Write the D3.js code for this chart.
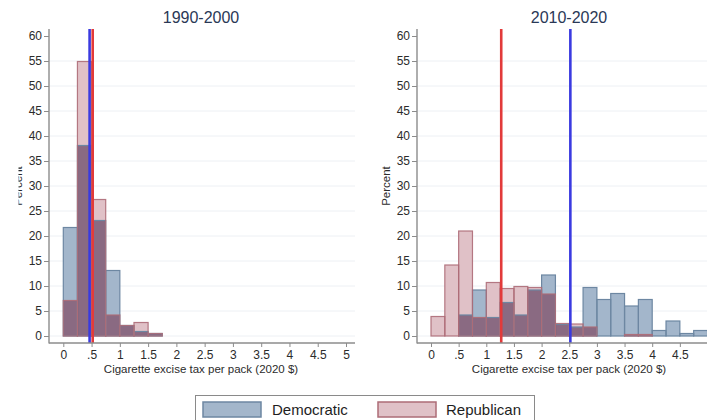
<!DOCTYPE html>
<html>
<head>
<meta charset="utf-8">
<script src="https://cdn.jsdelivr.net/npm/d3@7"></script>
<style>
  body { margin: 0; background: #fff; }
  svg { display: block; font-family: "Liberation Sans", Arial, sans-serif; }
</style>
</head>
<body>
<svg width="707" height="420"></svg>
<script>
// histogram bins (start of each 0.25 bin) and percent per party
const binWidth = 0.25;
const bins1990 = [0, 0.25, 0.5, 0.75, 1, 1.25, 1.5];
const dem1990 = [21.7, 38.1, 23.1, 13.1, 2.1, 0.9, 0.5];
const rep1990 = [7.1, 54.9, 27.3, 4.2, 2.1, 2.7, 0.5];

const bins2010 = [0, 0.25, 0.5, 0.75, 1, 1.25, 1.5, 1.75, 2, 2.25,
                  2.5, 2.75, 3, 3.25, 3.5, 3.75, 4, 4.25, 4.5, 4.75];
const dem2010 = [0, 0, 4.2, 9.2, 3.7, 6.7, 4.2, 9.2, 12.2, 2.3,
                 1.8, 9.7, 7.3, 8.5, 6.0, 7.3, 1.1, 3.0, 0.5, 1.1];
const rep2010 = [3.9, 14.2, 21.0, 3.7, 10.7, 9.5, 9.9, 9.7, 8.4, 2.5,
                 2.4, 1.8, 0, 0, 0.3, 0.3, 0, 0, 0, 0];

const titles = ["1990-2000", "2010-2020"];
const demMeans = [0.465, 2.52];
const repMeans = [0.52, 1.27];

const yTicks = [0, 5, 10, 15, 20, 25, 30, 35, 40, 45, 50, 55, 60];
const xTicks = [0, 0.5, 1, 1.5, 2, 2.5, 3, 3.5, 4, 4.5, 5];
const xTickLabels = ["0", ".5", "1", "1.5", "2", "2.5", "3", "3.5", "4", "4.5", "5"];
const legendLabels = ["Democratic", "Republican"];

const demFill = "#a3b6cb", demStroke = "#6d87a2";
const repFill = "#e0c1c7", repStroke = "#ad6c77";
const bothFill = "#8a6a82";
const axisColor = "#8c8c8c";

const svg = d3.select("svg");

const y = d3.scaleLinear().domain([0, 60]).range([336, 36]);

function drawPanel(p) {
  const x = d3.scaleLinear().domain([0, 5]).range(p.xRange);
  const g = svg.append("g");

  // grid
  g.append("g")
    .selectAll("line")
    .data(yTicks.filter((t) => t < 60))
    .join("line")
    .attr("x1", p.axisX + 1).attr("x2", p.gridEnd)
    .attr("y1", (d) => y(d)).attr("y2", (d) => y(d))
    .attr("stroke", "#edf0f4").attr("stroke-width", 1);

  const rows = p.bins.map((b, i) => ({ b, d: p.dem[i], r: p.rep[i] }));
  const bar = (sel, key) => sel
    .attr("x", (d) => x(d.b))
    .attr("width", (d) => x(d.b + binWidth) - x(d.b))
    .attr("y", (d) => y(key(d)))
    .attr("height", (d) => y(0) - y(key(d)));

  g.append("g").selectAll("rect").data(rows.filter((d) => d.d > 0))
    .join("rect").call(bar, (d) => d.d).attr("fill", demFill);
  g.append("g").selectAll("rect").data(rows.filter((d) => d.r > 0))
    .join("rect").call(bar, (d) => d.r).attr("fill", repFill);
  g.append("g").selectAll("rect").data(rows.filter((d) => Math.min(d.d, d.r) > 0))
    .join("rect").call(bar, (d) => Math.min(d.d, d.r)).attr("fill", bothFill);
  g.append("g").selectAll("rect").data(rows.filter((d) => d.d > 0))
    .join("rect").call(bar, (d) => d.d)
    .attr("fill", "none").attr("stroke", demStroke).attr("stroke-width", 1.2);
  g.append("g").selectAll("rect").data(rows.filter((d) => d.r > 0))
    .join("rect").call(bar, (d) => d.r)
    .attr("fill", "none").attr("stroke", repStroke).attr("stroke-width", 1.2)
    .attr("stroke-opacity", 0.9);

  // mean lines
  const means = [[p.demMean, "#3a3ae0"], [p.repMean, "#e23a3a"]];
  g.append("g").selectAll("line").data(means).join("line")
    .attr("x1", (d) => x(d[0])).attr("x2", (d) => x(d[0]))
    .attr("y1", 29).attr("y2", 343)
    .attr("stroke", (d) => d[1]).attr("stroke-width", 2.6);

  // y axis
  const yAxis = g.append("g")
    .attr("transform", `translate(${p.axisX},0)`)
    .call(d3.axisLeft(y).tickValues(yTicks).tickSize(5).tickPadding(2));
  yAxis.select(".domain").attr("d", `M0,29V343.5`);
  // x axis, only the ticks that fit in the window
  const shown = xTicks.filter((t) => x(t) < 700);
  const xAxis = g.append("g")
    .attr("transform", "translate(0,343)")
    .call(d3.axisBottom(x).tickValues(shown).tickSize(4).tickPadding(3)
      .tickFormat((d, i) => xTickLabels[i]));
  xAxis.select(".domain").attr("d", `M${p.axisX},0H${p.gridEnd}`);
  [yAxis, xAxis].forEach((a) => {
    a.select(".domain").attr("stroke", axisColor).attr("stroke-width", 1.4);
    a.selectAll(".tick line").attr("stroke", axisColor).attr("stroke-width", 1);
    a.selectAll(".tick text").attr("fill", "#2b2b2b")
      .style("font-size", "12px").style("font-family", "Liberation Sans, Arial, sans-serif");
  });

  // titles
  g.append("text")
    .attr("x", p.titleX).attr("y", 23)
    .attr("text-anchor", "middle")
    .attr("fill", "#2a3856").style("font-size", "16px")
    .text(p.title);
  g.append("text")
    .attr("x", p.titleX).attr("y", 373)
    .attr("text-anchor", "middle")
    .attr("fill", "#2b2b2b").style("font-size", "11.5px")
    .text("Cigarette excise tax per pack (2020 $)");

  const yl = g.append("text")
    .attr("transform", `translate(${p.ylabX},186) rotate(-90)`)
    .attr("text-anchor", "middle")
    .attr("fill", "#2b2b2b").style("font-size", "11.5px")
    .text("Percent");
  if (p.clipLabel) yl.attr("clip-path", "url(#lclip)");
}

svg.append("defs").append("clipPath").attr("id", "lclip")
  .attr("clipPathUnits", "userSpaceOnUse")
  .append("rect").attr("x", -50).attr("y", -3.5).attr("width", 100).attr("height", 10);

drawPanel({
  bins: bins1990, dem: dem1990, rep: rep1990,
  xRange: [63.3, 346], axisX: 49, gridEnd: 355,
  demMean: demMeans[0], repMean: repMeans[0],
  title: titles[0], titleX: 201, ylabX: 22, clipLabel: true
});
drawPanel({
  bins: bins2010, dem: dem2010, rep: rep2010,
  xRange: [431, 707.5], axisX: 417, gridEnd: 720,
  demMean: demMeans[1], repMean: repMeans[1],
  title: titles[1], titleX: 569, ylabX: 390, clipLabel: false
});

// legend
const legend = svg.append("g");
legend.append("rect")
  .attr("x", 195.5).attr("y", 395.5).attr("width", 339).attr("height", 40)
  .attr("fill", "#fff").attr("stroke", "#8a8a8a").attr("stroke-width", 1);
const items = legend.selectAll("g").data(legendLabels).join("g")
  .attr("transform", (d, i) => `translate(${i ? 378 : 203},0)`);
items.append("rect")
  .attr("x", 0).attr("y", 402).attr("width", 58).attr("height", 15)
  .attr("fill", (d, i) => i ? repFill : demFill)
  .attr("stroke", (d, i) => i ? repStroke : demStroke).attr("stroke-width", 1.5);
items.append("text")
  .attr("x", (d, i) => i ? 68 : 69).attr("y", 415)
  .attr("fill", "#1e1e1e").style("font-size", "15px")
  .text((d) => d);
</script>
</body>
</html>
